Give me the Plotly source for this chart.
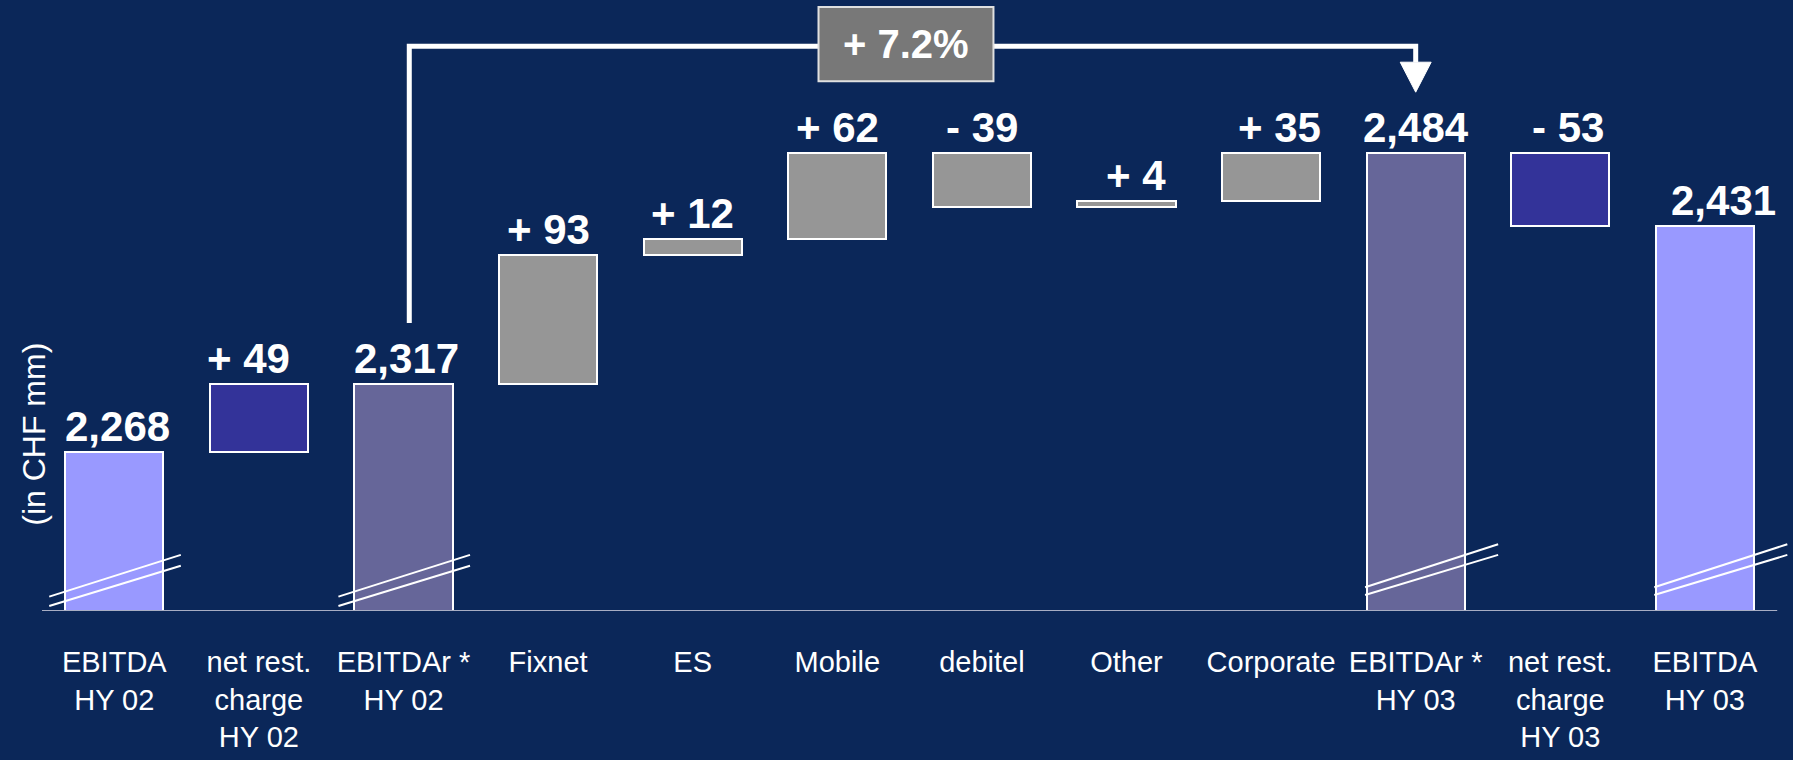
import plotly.graph_objects as go

# ---- data ----
categories = ["EBITDA<br>HY 02", "net rest.<br>charge<br>HY 02", "EBITDAr *<br>HY 02",
              "Fixnet", "ES", "Mobile", "debitel", "Other", "Corporate",
              "EBITDAr *<br>HY 03", "net rest.<br>charge<br>HY 03", "EBITDA<br>HY 03"]
kinds = ["total", "delta", "total", "delta", "delta", "delta", "delta", "delta", "delta",
         "total", "delta", "total"]
values = [2268, 49, 2317, 93, 12, 62, -39, 4, 35, 2484, -53, 2431]
bar_colors = ["#9999FF", "#333399", "#666699", "#969696", "#969696", "#969696", "#969696",
              "#969696", "#969696", "#666699", "#333399", "#9999FF"]
label_dx = [3, -10, 3, 0, 0, 0, 0, 9, 8, 0, 8, 19]
broken_bars = [0, 2, 9, 11]

BG = "#0B2759"
Y_MIN, Y_MAX = 2152.6, 2594.7

# ---- waterfall geometry ----
bases, heights, tops, labels = [], [], [], []
running = None
for k, v in zip(kinds, values):
    if k == "total":
        bases.append(Y_MIN)
        heights.append(v - Y_MIN)
        running = v
        tops.append(v)
        labels.append(f"{v:,}")
    else:
        start = running
        running = start + v
        bases.append(min(start, running))
        heights.append(abs(v))
        tops.append(max(start, running))
        labels.append(("+ " if v > 0 else "- ") + str(abs(v)))

x = list(range(len(categories)))

fig = go.Figure()
fig.add_trace(go.Bar(
    x=x, y=heights, base=bases, width=0.68,
    marker=dict(color=bar_colors, line=dict(color="white", width=2)),
    hoverinfo="skip", showlegend=False,
))

annotations = []
for i, (t, lab) in enumerate(zip(tops, labels)):
    annotations.append(dict(
        x=i, y=t, xref="x", yref="y", text=f"<b>{lab}</b>", showarrow=False,
        yanchor="bottom", xanchor="center", xshift=label_dx[i], yshift=0,
        font=dict(family="Liberation Sans, Arial", size=42, color="white"),
    ))

# y axis title
annotations.append(dict(
    x=-0.0046, y=0.29, xref="paper", yref="paper", text="(in CHF mm)", showarrow=False,
    textangle=-90, xanchor="center", yanchor="middle",
    font=dict(family="Liberation Sans, Arial", size=32, color="white"),
))

shapes = []
# baseline
shapes.append(dict(type="line", xref="x", yref="y", x0=-0.5, x1=11.5, y0=Y_MIN, y1=Y_MIN,
                   line=dict(color="#A8AEC4", width=2), layer="above"))

# axis break marks (double slashes)
for i in broken_bars:
    if i < 5:
        xl, xr = i - 0.45, i + 0.46
        l1, r1, l2, r2 = 10.4, 40.6, 3.6, 32.8
    else:
        xl, xr = i - 0.35, i + 0.57
        l1, r1, l2, r2 = 17.2, 48.3, 11.6, 40.6
    for a, b in ((l1, r1), (l2, r2)):
        shapes.append(dict(type="line", xref="x", yref="y", x0=xl, x1=xr,
                           y0=Y_MIN + a, y1=Y_MIN + b,
                           line=dict(color="white", width=2), layer="above"))

# growth connector
start_total = values[2]
end_total = values[9]
growth = (end_total - start_total) / start_total * 100
lx, rx = 2.04, 9.0
y_low = start_total + 44
y_top = 2561.3
tip = end_total + 44
head_base = tip + 21.7
shapes.append(dict(type="path", xref="x", yref="y",
                   path=f"M {lx},{y_low} L {lx},{y_top} L {rx},{y_top} L {rx},{head_base}",
                   line=dict(color="white", width=5), layer="above"))
shapes.append(dict(type="path", xref="x", yref="y",
                   path=f"M {rx-0.107},{head_base} L {rx+0.107},{head_base} L {rx},{tip} Z",
                   fillcolor="white", line=dict(color="white", width=1), layer="above"))
# growth box
shapes.append(dict(type="rect", xref="x", yref="y", x0=4.87, x1=6.08, y0=2535.9, y1=2589.6,
                   fillcolor="#787878", line=dict(color="#E0E0E0", width=2), layer="above"))
annotations.append(dict(
    x=5.475, y=(2535.9 + 2589.6) / 2, xref="x", yref="y",
    text=f"<b>+ {growth:.1f}%</b>", showarrow=False, xanchor="center", yanchor="middle",
    font=dict(family="Liberation Sans, Arial", size=40, color="white"),
))

fig.update_layout(
    width=1793, height=760,
    margin=dict(l=42, r=0, t=0, b=149),
    paper_bgcolor=BG, plot_bgcolor=BG,
    bargap=0,
    xaxis=dict(range=[-0.5, -0.5 + 1751 / 144.6], tickmode="array", tickvals=x,
               ticktext=categories, showgrid=False, zeroline=False, showline=False,
               ticks="", ticklabelstandoff=31,
               tickfont=dict(family="Liberation Sans, Arial", size=29, color="white")),
    yaxis=dict(range=[Y_MIN, Y_MAX], showgrid=False, zeroline=False, showline=False,
               showticklabels=False, ticks=""),
    annotations=annotations,
    shapes=shapes,
)

fig.write_html("out.html", config={"displayModeBar": False},
               post_script="document.body.style.margin='0';")
